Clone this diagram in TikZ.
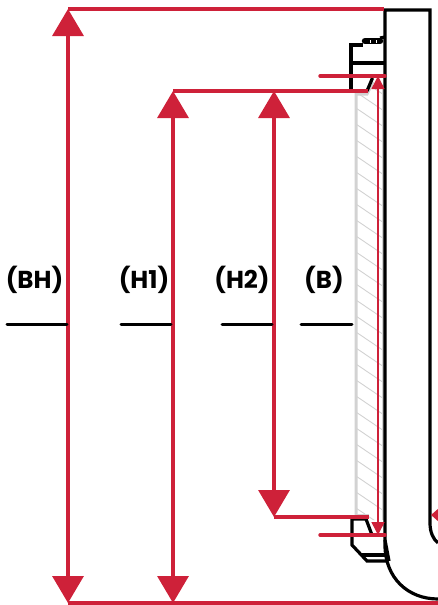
\documentclass[tikz,border=0pt]{standalone}
\usepackage{fontspec}
\setmainfont{Poppins}
\usetikzlibrary{arrows.meta}
\definecolor{dimred}{HTML}{CE2139}
\definecolor{sealgray}{HTML}{D2D2D2}
\tikzset{
  redline/.style={draw=dimred,line width=3.4pt},
  bigdim/.style={redline,{Triangle[length=27pt,width=31pt]}-{Triangle[length=27pt,width=31pt]}},
  thindim/.style={draw=dimred,line width=1.5pt,{Triangle[length=13pt,width=13pt]}-{Triangle[length=13pt,width=13pt]}},
  outline/.style={draw=black,line width=3.2pt,line join=miter},
  seal/.style={draw=sealgray,line width=3pt},
  hatchline/.style={draw=sealgray,line width=0.9pt},
  leader/.style={draw=black,line width=3pt,line cap=round},
  lbl/.style={font=\bfseries\fontsize{24.5}{27}\selectfont,text=black,inner sep=0pt,anchor=center}
}
\begin{document}
\begin{tikzpicture}[x=1pt,y=-1pt]
\useasboundingbox (0,0) rectangle (438,605);
% hatching
\begin{scope}
\clip (356,94) -- (367,94) -- (373,82) -- (384,82) -- (384,520) -- (356,520) -- cycle;
\foreach \y in {40,56,...,540} \draw[hatchline] (350,\y) -- (390,\y+27);
\end{scope}
% seal outline
\draw[seal] (356,515) -- (356,94) -- (367,94) -- (373,82);
\draw[seal] (383,86) -- (383,520);
\draw[seal] (356,515) -- (369,515);
% body
\draw[outline] (438,599) .. controls (408,599) and (385,578) .. (385,545) -- (385,10) -- (430,10) -- (430,523) .. controls (430,532) and (433,539) .. (438,543);
% top bracket
\draw[outline] (351,91) -- (351,45) -- (363,45);
\draw[outline] (351,63) -- (385,63);
\draw[outline] (367,91) -- (372.5,78);
\draw[draw=black,line width=6.5pt,line cap=round] (365,41) -- (380,41);
\draw[draw=white,line width=1pt] (370,40) -- (370,43);
\draw[draw=white,line width=1pt] (376,40) -- (376,43);
\draw[outline] (380,38) -- (385,37);
% bottom bracket
\draw[outline] (367,519) -- (352,519) -- (352,545) -- (367,561) -- (388,561);
\draw[outline] (366,519) -- (372,535);
\draw[outline] (362,555) -- (385,555);
\draw[outline] (385,540) -- (389,561);
% red reference lines
\coordinate (bhT) at (68,9);
\coordinate (bhB) at (68,603);
\coordinate (h1T) at (173,91);
\coordinate (h1B) at (173,603);
\coordinate (h2T) at (274,91);
\coordinate (h2B) at (274,517);
\coordinate (bT) at (378,76);
\coordinate (bB) at (378,535);
\draw[redline] (bhT) -- (384,9);
\draw[redline] (bhB) -- (438,603);
\draw[redline] (h1T) -- (368,91);
\draw[redline] (h2B) -- (369,517);
\draw[redline,line cap=round] (320,76) -- (385,76);
\draw[redline,line cap=round] (320,535) -- (385,535);
% dimensions
\draw[bigdim] (bhT) -- (bhB);
\draw[bigdim] (h1T) -- (h1B);
\draw[bigdim] (h2T) -- (h2B);
\draw[thindim] (bT) -- (bB);
% small arrow at right edge
\coordinate (gapTip) at (431,515);
\coordinate (gapEnd) at (438,515);
\draw[draw=dimred,line width=1.1pt,{Triangle[length=7pt,width=12pt]}-] (gapTip) -- (gapEnd);
% labels and leaders
\node[lbl] (lBH) at (34.5,280) {(BH)};
\node[lbl] (lH1) at (144,280) {(H1)};
\node[lbl] (lH2) at (242,280) {(H2)};
\node[lbl] (lB) at (324,280) {(B)};
\draw[leader] (7,324) -- (67,324);
\draw[leader] (121,324) -- (171,324);
\draw[leader] (222,324) -- (272,324);
\draw[leader] (301,324) -- (352,324);
\end{tikzpicture}
\end{document}
